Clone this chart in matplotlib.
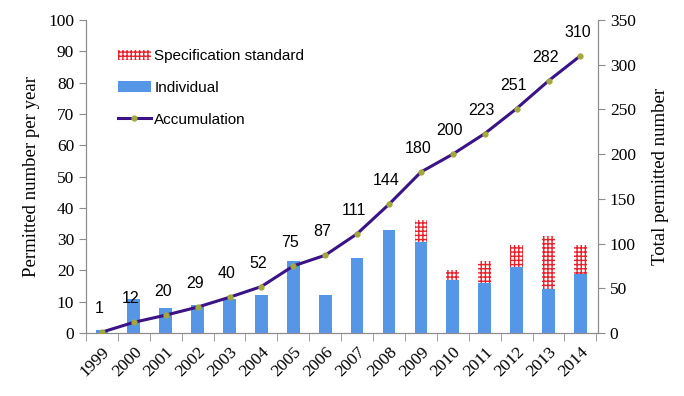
import matplotlib
matplotlib.use('Agg')
import numpy as np
import matplotlib.pyplot as plt

years = ['1999', '2000', '2001', '2002', '2003', '2004', '2005', '2006',
         '2007', '2008', '2009', '2010', '2011', '2012', '2013', '2014']
individual = [1, 11, 8, 9, 11, 12, 23, 12, 24, 33, 29, 17, 16, 21, 14, 19]
spec_standard = [0, 0, 0, 0, 0, 0, 0, 0, 0, 0, 7, 3, 7, 7, 17, 9]
accumulation = [1, 12, 20, 29, 40, 52, 75, 87, 111, 144, 180, 200, 223, 251, 282, 310]

SERIF = 'Liberation Serif'
SANS = 'Liberation Sans'
AXIS_GRAY = '#8c8c8c'
BAR_BLUE = '#5596e6'
LINE_PURPLE = '#3a1487'
plt.rcParams['hatch.linewidth'] = 1.0

fig = plt.figure(figsize=(6.84, 3.96), dpi=100)
ax = fig.add_axes([0.1257, 0.159, 0.7485, 0.7905])
ax2 = ax.twinx()

x = np.arange(len(years))
w = 0.4
ax.bar(x, individual, w, color=BAR_BLUE, label='Individual', zorder=2)
ax.bar(x, spec_standard, w, bottom=individual, facecolor='white', edgecolor='#e8202a',
       hatch='++++', linewidth=0, label='Specification standard', zorder=2)

ax2.plot(x, accumulation, color=LINE_PURPLE, lw=2.2, marker='o', ms=3.5,
         mfc='#a3a83c', mec='#a3a83c', label='Accumulation', zorder=3)
for xi, v in zip(x, accumulation):
    ax2.annotate(str(v), (xi, v), xytext=(-3, 16), textcoords='offset pixels',
                 ha='center', va='bottom', fontsize=11.5, family=SANS)

ax.set_xlim(-0.45, 15.55)
ax.set_ylim(0, 100)
ax2.set_ylim(0, 350)
ax.set_yticks(range(0, 101, 10))
ax2.set_yticks(range(0, 351, 50))

ax.set_xticks(x)
ax.set_xticklabels(years, rotation=45, ha='right', rotation_mode='anchor',
                   family=SERIF, fontsize=12.5)
ax.set_xticks(np.arange(-0.5, 16, 1), minor=True)
ax.tick_params(axis='x', which='major', length=0, pad=8)
ax.tick_params(axis='x', which='minor', length=6, color=AXIS_GRAY)

for a in (ax, ax2):
    a.tick_params(axis='y', length=5, color=AXIS_GRAY, labelsize=12.5)
    for lab in a.get_yticklabels():
        lab.set_family(SERIF)
    a.spines['top'].set_visible(False)
    for s in ('left', 'right', 'bottom'):
        a.spines[s].set_color(AXIS_GRAY)

ax.set_ylabel('Permitted number per year', family=SERIF, fontsize=13.5, labelpad=6)
ax2.set_ylabel('Total permitted number', family=SERIF, fontsize=13.5, labelpad=12)

h1, l1 = ax.get_legend_handles_labels()
h2, l2 = ax2.get_legend_handles_labels()
handles = [h1[1], h1[0], h2[0]]
labels = [l1[1], l1[0], l2[0]]
ax.legend(handles, labels, loc='upper left', bbox_to_anchor=(0.035, 0.95), frameon=False,
          prop={'family': SANS, 'size': 11}, handlelength=2.2, handletextpad=0.2,
          labelspacing=1.15)

fig.savefig('out.png', dpi=100)
